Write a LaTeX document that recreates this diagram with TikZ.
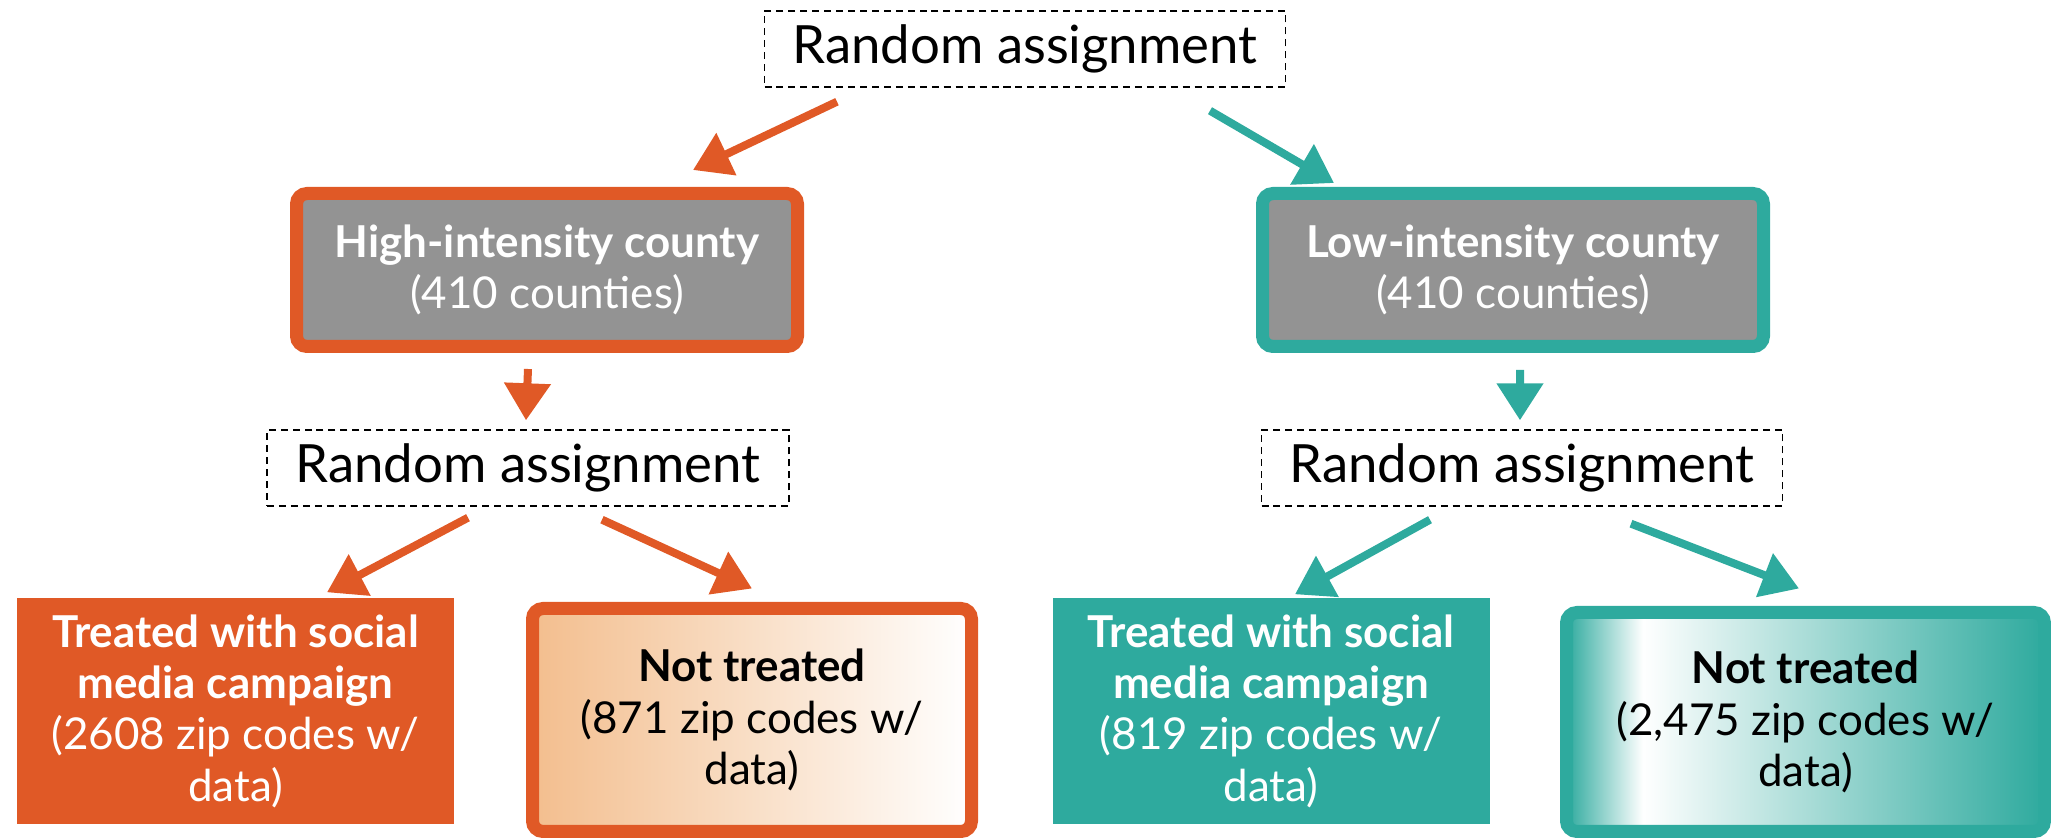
\documentclass[tikz,border=0pt]{standalone}
\usepackage{fontspec}
\setmainfont{Lato}
\usetikzlibrary{arrows.meta}
\definecolor{hiorange}{RGB}{224,89,38}
\definecolor{loteal}{RGB}{46,170,158}
\definecolor{boxgray}{RGB}{147,147,147}
\definecolor{peach}{RGB}{243,190,142}
\pgfdeclarehorizontalshading{tealfade}{100bp}{color(0bp)=(loteal); color(25bp)=(loteal); color(33bp)=(white); color(75bp)=(loteal); color(100bp)=(loteal)}
\newcommand{\rafont}{\fontsize{15}{18}\selectfont}
\newcommand{\cellfont}{\fontsize{12.5}{14.6}\selectfont}
\tikzset{assign/.style = {draw,dash pattern=on 2pt off 1.4pt,line width=0.4pt,minimum height=0.76cm,font=\rafont}}
\tikzset{county/.style = {draw,fill=boxgray,text=white,line width=0.13cm,rounded corners=3pt,minimum width=5.01cm,minimum height=1.53cm,align=center,font=\cellfont}}
\tikzset{treated/.style = {text=white,minimum width=4.37cm,minimum height=2.26cm,align=center,font=\cellfont}}
\tikzset{control/.style = {draw,line width=0.13cm,rounded corners=3pt,align=center,font=\cellfont}}
\tikzset{edge/.style = {line width=0.08cm,-{Triangle[length=0.37cm,width=0.45cm]}}}

\begin{document}
\begin{tikzpicture}
            \useasboundingbox (0,0) rectangle (20.51,-8.38);
            \node[assign,minimum width=5.21cm] (ra) at (10.25,-0.49) {Random assignment};
            \node[county,draw=hiorange] (high) at (5.47,-2.70) {{\bfseries High-intensity county}\\(410 counties)};
            \node[county,draw=loteal] (low) at (15.13,-2.70) {{\bfseries Low-intensity county}\\(410 counties)};
            \draw[edge,hiorange] ([xshift=-1.88cm,yshift=-0.14cm]ra.south) -- ([xshift=1.46cm,yshift=0.17cm]high.north);
            \draw[edge,loteal] ([xshift=1.85cm,yshift=-0.23cm]ra.south) -- ([xshift=-1.79cm,yshift=0.04cm]low.north);
            % second draw, one per county
            \node[assign,minimum width=5.22cm] (rahigh) at (5.28,-4.68) {Random assignment};
            \node[assign,minimum width=5.21cm] (ralow) at (15.22,-4.68) {Random assignment};
            \draw[edge,hiorange] ([xshift=-0.19cm,yshift=-0.16cm]high.south) -- ([xshift=-0.02cm,yshift=0.09cm]rahigh.north);
            \draw[edge,loteal] ([xshift=0.07cm,yshift=-0.17cm]low.south) -- ([xshift=-0.02cm,yshift=0.09cm]ralow.north);
            \node[treated,fill=hiorange] (hightreat) at (2.355,-7.11) {{\bfseries Treated with social}\\{\bfseries media campaign}\\(2608 zip codes w/\\data)};
            \node[control,draw=hiorange,left color=peach,right color=white,minimum width=4.39cm,minimum height=2.23cm] (highctrl) at (7.52,-7.20) {{\bfseries Not treated}\\(871 zip codes w/\\data)};
            \draw[edge,hiorange] ([xshift=-0.60cm,yshift=-0.11cm]rahigh.south) -- ([xshift=0.915cm,yshift=0.05cm]hightreat.north);
            \draw[edge,hiorange] ([xshift=0.74cm,yshift=-0.13cm]rahigh.south) -- ([yshift=0.135cm]highctrl.north);
            \node[treated,fill=loteal] (lowtreat) at (12.71,-7.11) {{\bfseries Treated with social}\\{\bfseries media campaign}\\(819 zip codes w/\\data)};
            \node[control,draw=loteal,shading=tealfade,minimum width=4.78cm,minimum height=2.19cm] (lowctrl) at (18.055,-7.22) {{\bfseries Not treated}\\(2,475 zip codes w/\\data)};
            \draw[edge,loteal] ([xshift=-0.92cm,yshift=-0.13cm]ralow.south) -- ([xshift=0.24cm,yshift=0.03cm]lowtreat.north);
            \draw[edge,loteal] ([xshift=1.09cm,yshift=-0.17cm]ralow.south) -- ([xshift=-0.065cm,yshift=0.175cm]lowctrl.north);
        \end{tikzpicture}
\end{document}
